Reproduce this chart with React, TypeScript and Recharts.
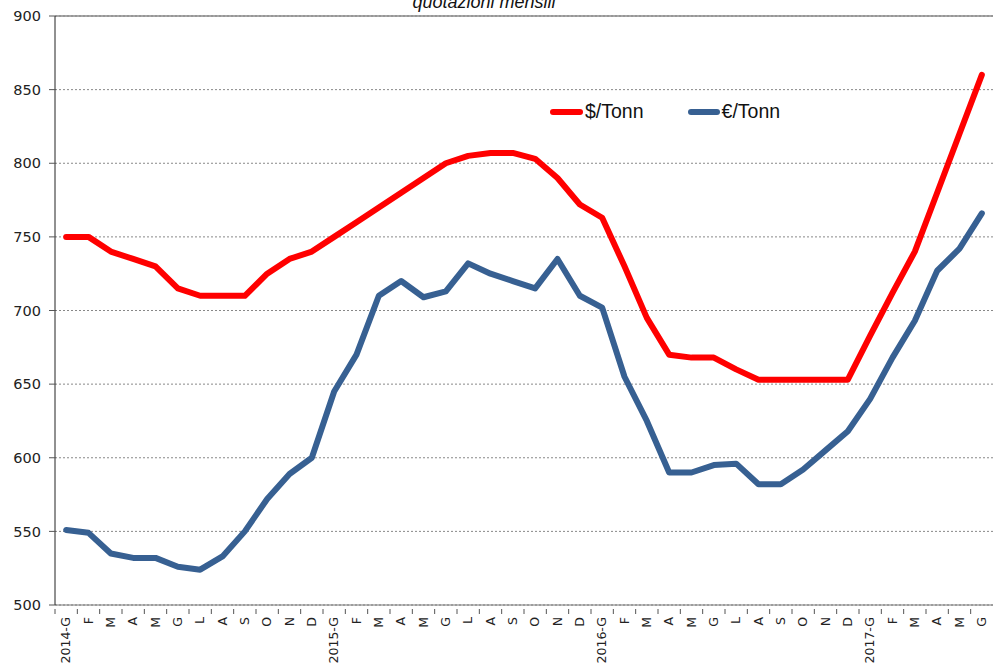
import React from "react";
import { ComposedChart, Line, XAxis, YAxis, CartesianGrid, ReferenceLine, Legend } from "recharts";

const months = [
  "2014-G","F","M","A","M","G","L","A","S","O","N","D",
  "2015-G","F","M","A","M","G","L","A","S","O","N","D",
  "2016-G","F","M","A","M","G","L","A","S","O","N","D",
  "2017-G","F","M","A","M","G",
];
const usdTonn = [
  750,750,740,735,730,715,710,710,710,725,735,740,
  750,760,770,780,790,800,805,807,807,803,790,772,
  763,730,695,670,668,668,660,653,653,653,653,653,
  683,712,740,780,820,860,
];
const eurTonn = [
  551,549,535,532,532,526,524,533,550,572,589,600,
  645,670,710,720,709,713,732,725,720,715,735,710,
  702,655,625,590,590,595,596,582,582,592,605,618,
  640,668,693,727,742,766,
];
const yTicks = [500,550,600,650,700,750,800,850,900];
const seriesNames = ["$/Tonn", "€/Tonn"];
const title = "quotazioni mensili";

const data = months.map((m, i) => ({ idx: i, label: m, usd: usdTonn[i], eur: eurTonn[i] }));

const CHART_W = 993;
const CHART_H = 666;
const Y_W = 55;
const HALF_BAND = (CHART_W - Y_W) / months.length / 2;

const RED = "#FF0000";
const BLUE = "#376092";

const XTick = (props: any) => {
  const { x, y, payload } = props;
  const label = months[payload.value];
  return (
    <g>
      <line x1={x - HALF_BAND} x2={x - HALF_BAND} y1={y - 8} y2={y - 3} stroke="#555" />
      <text
        transform={`translate(${x + 4},${y}) rotate(-90)`}
        textAnchor="end"
        fontFamily="DejaVu Sans"
        fontSize={12.5}
        fill="#222"
      >
        {label}
      </text>
    </g>
  );
};

const LegendContent = () => (
  <div style={{ display: "flex", alignItems: "center", fontFamily: "Liberation Sans", fontSize: 19.5, color: "#111" }}>
    <span style={{ display: "inline-block", width: 33, height: 6, borderRadius: 3, background: RED, marginRight: 2 }} />
    <span style={{ marginRight: 44 }}>{seriesNames[0]}</span>
    <span style={{ display: "inline-block", width: 32, height: 6, borderRadius: 3, background: BLUE, marginRight: 2 }} />
    <span>{seriesNames[1]}</span>
  </div>
);

export default function App() {
  return (
    <div style={{ position: "absolute", left: 0, top: 0, width: CHART_W, height: CHART_H, background: "#fff" }}>
      <ComposedChart
        width={CHART_W}
        height={CHART_H}
        data={data}
        margin={{ top: 16, right: 0, bottom: 0, left: 0 }}
      >
        <text x={484} y={8} textAnchor="middle" fontFamily="Liberation Sans" fontStyle="italic" fontSize={18} fill="#111">
          {title}
        </text>
        <CartesianGrid vertical={false} horizontal stroke="#888" strokeDasharray="2 2" />
        <ReferenceLine y={900} stroke="#888" strokeWidth={1.5} />
        <XAxis
          dataKey="idx"
          type="category"
          scale="band"
          height={61}
          interval={0}
          tickLine={false}
          axisLine={{ stroke: "#777" }}
          tick={<XTick />}
          tickMargin={6}
        />
        <YAxis
          width={Y_W}
          domain={[500, 900]}
          ticks={yTicks}
          interval={0}
          axisLine={{ stroke: "#222" }}
          tickLine={{ stroke: "#555" }}
          tickSize={6}
          tick={{ fontFamily: "DejaVu Sans", fontSize: 14.5, fill: "#222" }}
          tickMargin={8}
        />
        <Legend
          verticalAlign="middle"
          align="center"
          layout="horizontal"
          content={<LegendContent />}
          wrapperStyle={{ position: "absolute", left: 550, top: 100, width: 300 }}
        />
        <Line
          type="linear"
          dataKey="usd"
          name={seriesNames[0]}
          stroke={RED}
          strokeWidth={6}
          dot={false}
          strokeLinecap="round"
          strokeLinejoin="round"
          isAnimationActive={false}
        />
        <Line
          type="linear"
          dataKey="eur"
          name={seriesNames[1]}
          stroke={BLUE}
          strokeWidth={6}
          dot={false}
          strokeLinecap="round"
          strokeLinejoin="round"
          isAnimationActive={false}
        />
      </ComposedChart>
    </div>
  );
}
